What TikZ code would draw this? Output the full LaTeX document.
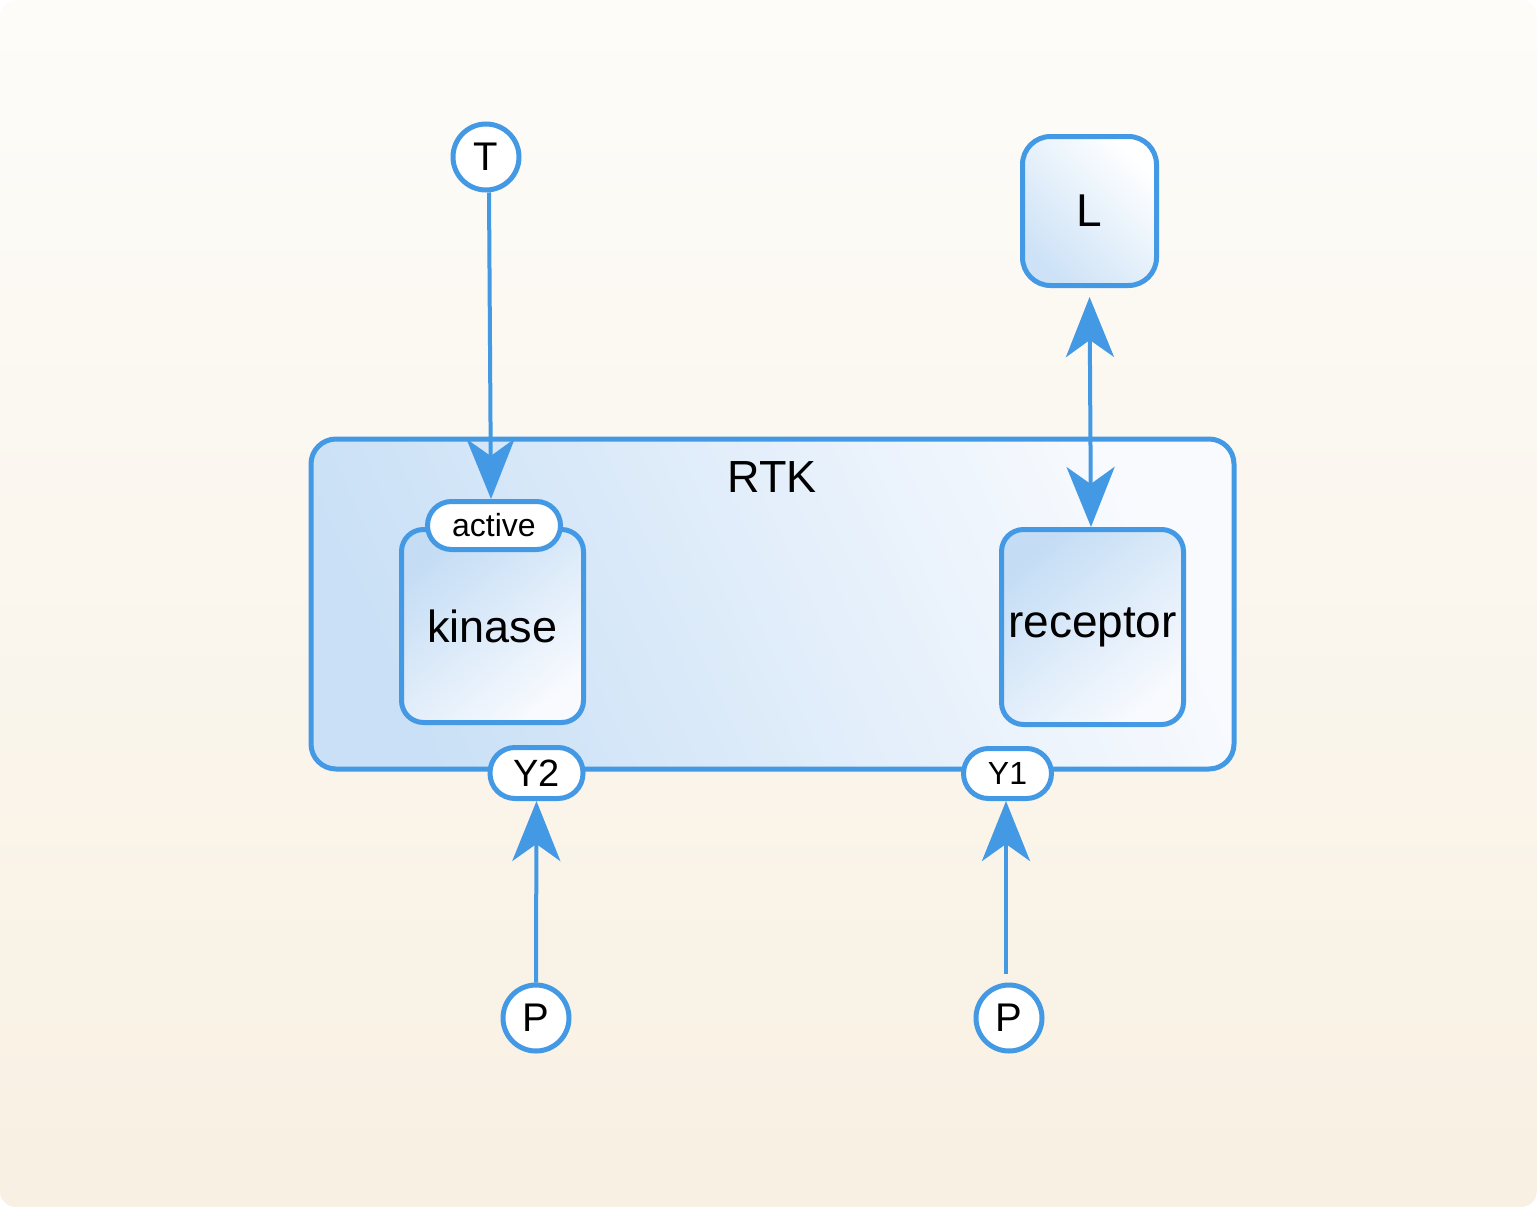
\documentclass[tikz,border=0pt]{standalone}
\usepackage{fontspec}
\setmainfont{Liberation Sans}
\usetikzlibrary{arrows.meta}
\definecolor{edge}{HTML}{4499E4}
\definecolor{bgtop}{HTML}{FDFCF9}
\definecolor{bgbot}{HTML}{F8F0E2}
\definecolor{lblue}{HTML}{C4DDF5}
\definecolor{pale}{HTML}{F8FAFE}
\newcommand{\fs}[1]{\fontsize{#1}{#1}\selectfont}
\tikzset{
  box/.style={draw=edge, line width=5pt, rounded corners=#1, inner sep=0pt, outer sep=2.5pt},
  pill/.style={box=#1, fill=white},
  disc/.style={circle, draw=edge, line width=5pt, fill=white, minimum size=66pt, inner sep=0pt, outer sep=2.5pt, font=\fs{40}},
  conn/.style={draw=edge, line width=4pt, -{Stealth[length=60pt, width=48pt, inset=17pt]}},
  dconn/.style={draw=edge, line width=4pt, {Stealth[length=60pt, width=48pt, inset=17pt]}-{Stealth[length=60pt, width=48pt, inset=17pt]}},
}
\begin{document}
\begin{tikzpicture}[x=1pt,y=-1pt]
\useasboundingbox (0,0) rectangle (1537,1207);
\shade[top color=bgtop, bottom color=bgbot, rounded corners=16pt] (0,0) rectangle (1537,1207);

\node[box=25pt, minimum width=923pt, minimum height=330pt, top color=pale, bottom color=lblue!90!white, shading angle=-65] (rtk) at (772.5,604) {};
\node[font=\fs{45}] (rtklabel) at (772,477) {RTK};

\node[box=22pt, minimum width=182pt, minimum height=193pt, top color=lblue, bottom color=pale, shading angle=40, font=\fs{45}] (kinase) at (492.5,626) {kinase};
\node[pill=24pt, minimum width=133pt, minimum height=48pt, font=\fs{32}] (active) at (494,525.5) {active};

\node[box=22pt, minimum width=182pt, minimum height=195pt, top color=lblue, bottom color=pale, shading angle=40, font=\fs{46}] (receptor) at (1092.5,627) {receptor};

\node[box=28pt, minimum width=134pt, minimum height=149pt, top color=white, bottom color=lblue!85!white, shading angle=-45, font=\fs{46}] (L) at (1089.5,211) {L};

\node[disc] (T) at (486,157) {T};
\node[disc] (P1) at (536,1018) {P};
\node[disc] (P2) at (1009,1018) {P};

\node[pill=25pt, minimum width=93pt, minimum height=51pt, font=\fs{38}] (Y2) at (536.5,773) {Y2};
\node[pill=25pt, minimum width=88pt, minimum height=50pt, font=\fs{32}] (Y1) at (1007.5,773.5) {Y1};

\draw[conn] ([xshift=3pt]T.south) -- ([xshift=-3pt]active.north);
\draw[dconn, shorten <=9pt] (L.south) -- ([xshift=-1.5pt]receptor.north);
\draw[conn] (P1.north) -- (Y2.south);
\draw[conn, shorten <=9pt] ([xshift=-3pt]P2.north) -- ([xshift=-1.5pt]Y1.south);
\end{tikzpicture}
\end{document}
